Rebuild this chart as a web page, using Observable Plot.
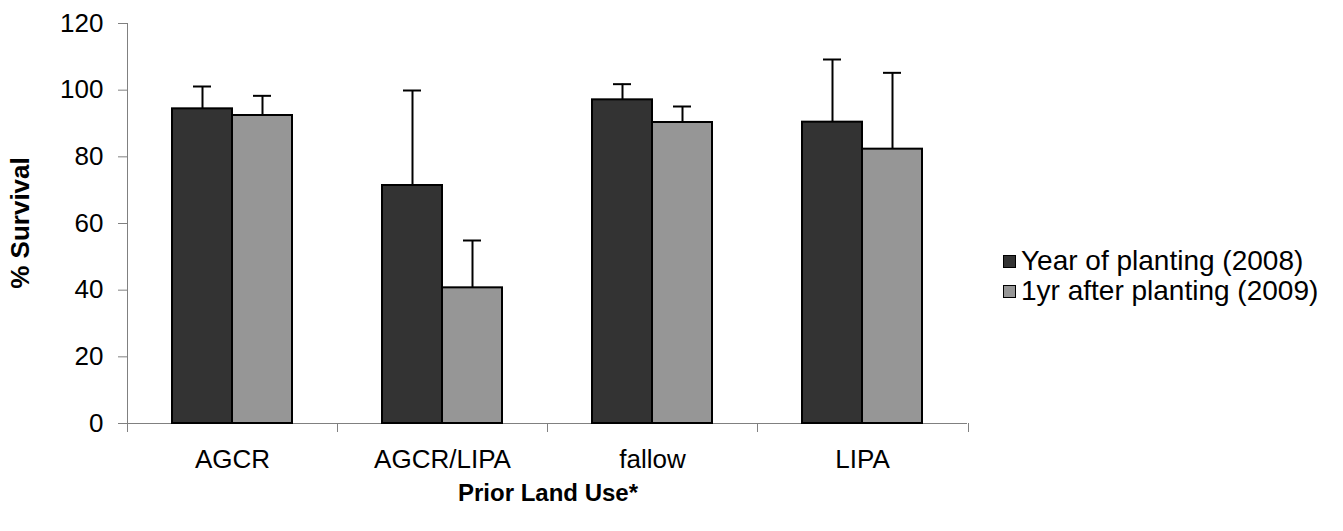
<!DOCTYPE html>
<html><head><meta charset="utf-8">
<script src="https://cdn.jsdelivr.net/npm/d3@7"></script>
<script src="https://cdn.jsdelivr.net/npm/@observablehq/plot@0.6"></script>
<style>
body{margin:0;background:#fff;font-family:"Liberation Sans",Arial,sans-serif;color:#000;}
#wrap{position:relative;width:1343px;height:531px;overflow:hidden;}
#legend{position:absolute;left:1003px;top:246px;font-size:28px;}
.row{display:flex;align-items:center;height:30px;white-space:nowrap;}
.row span{display:block;line-height:30px;height:30px;}
.sw{width:11px;height:11px;border:1.5px solid #000;margin-right:5px;}
.title{position:absolute;font-weight:bold;white-space:nowrap;}
#ytitle{left:20px;top:223px;font-size:26px;transform:translate(-50%,-50%) rotate(-90deg);}
#xtitle{left:548px;top:493px;font-size:24px;transform:translate(-50%,-50%);}
</style></head><body>
<div id="wrap"><div id="chart"></div><div id="legend"></div>
<div id="ytitle" class="title"></div><div id="xtitle" class="title"></div></div>
<script>
const categories = ["AGCR", "AGCR/LIPA", "fallow", "LIPA"];
const series = ["Year of planting (2008)", "1yr after planting (2009)"];
const survival2008 = [94.4, 71.4, 97.1, 90.4];
const error2008 = [6.7, 28.5, 4.7, 18.8];
const survival2009 = [92.4, 40.7, 90.3, 82.3];
const error2009 = [5.9, 14.2, 4.8, 22.9];
const yTicks = [0, 20, 40, 60, 80, 100, 120];
const colors = ["#333333", "#969696"];
const xTitle = "Prior Land Use*";
const yTitle = "% Survival";

const data = categories.flatMap((c, i) => [
  {cat: c, series: series[0], value: survival2008[i], err: error2008[i]},
  {cat: c, series: series[1], value: survival2009[i], err: error2009[i]}
]);

const plot = Plot.plot({
  width: 990, height: 531,
  marginLeft: 126, marginRight: 22, marginTop: 23, marginBottom: 108,
  style: {fontFamily: "'Liberation Sans', Arial, sans-serif", fontSize: "26px", color: "#000", background: "#fff"},
  fx: {domain: categories, padding: 0, label: null},
  x: {domain: series, paddingInner: 0, paddingOuter: 0.75, axis: null},
  y: {domain: [0, 120], label: null},
  color: {domain: series, range: colors},
  marks: [
    Plot.axisY({ticks: yTicks, tickSize: 9, tickPadding: 15, stroke: "#808080", fill: "#000", label: null}),
    Plot.axisFx({anchor: "bottom", tickSize: 0, tickPadding: 26, label: null, fill: "#000"}),
    Plot.ruleY([0], {stroke: "#808080", strokeWidth: 1}),
    Plot.barY(data, {fx: "cat", x: "series", y: "value", fill: "series", stroke: "#000", strokeWidth: 2}),
    Plot.ruleX(data, {fx: "cat", x: "series", y1: "value", y2: d => d.value + d.err, stroke: "#000", strokeWidth: 2}),
    Plot.tickY(data, {fx: "cat", x: "series", y: d => d.value + d.err, stroke: "#000", strokeWidth: 2, insetLeft: 21, insetRight: 21})
  ]
});

// Excel-style axis line and category boundary ticks, positioned from Plot's scales
const ns = "http://www.w3.org/2000/svg";
const fx = plot.scale("fx"), ys = plot.scale("y");
const y0 = ys.apply(0), yTop = ys.apply(120);
const bounds = categories.map(c => fx.apply(c));
bounds.push(fx.range[1]);
const g = document.createElementNS(ns, "g");
g.setAttribute("stroke", "#808080");
g.setAttribute("shape-rendering", "crispEdges");
function line(x1, y1, x2, y2) {
  const l = document.createElementNS(ns, "line");
  l.setAttribute("x1", x1); l.setAttribute("y1", y1); l.setAttribute("x2", x2); l.setAttribute("y2", y2);
  g.appendChild(l);
}
line(bounds[0], yTop, bounds[0], y0 + 9);
bounds.forEach(b => line(b, y0, b, y0 + 9));
plot.insertBefore(g, plot.firstChild.nextSibling);

document.getElementById("chart").appendChild(plot);
document.getElementById("ytitle").textContent = yTitle;
document.getElementById("xtitle").textContent = xTitle;
const legend = document.getElementById("legend");
series.forEach((s, i) => {
  const row = document.createElement("div"); row.className = "row";
  const sw = document.createElement("div"); sw.className = "sw"; sw.style.background = colors[i];
  const t = document.createElement("span"); t.textContent = s;
  row.appendChild(sw); row.appendChild(t); legend.appendChild(row);
});
</script></body></html>
